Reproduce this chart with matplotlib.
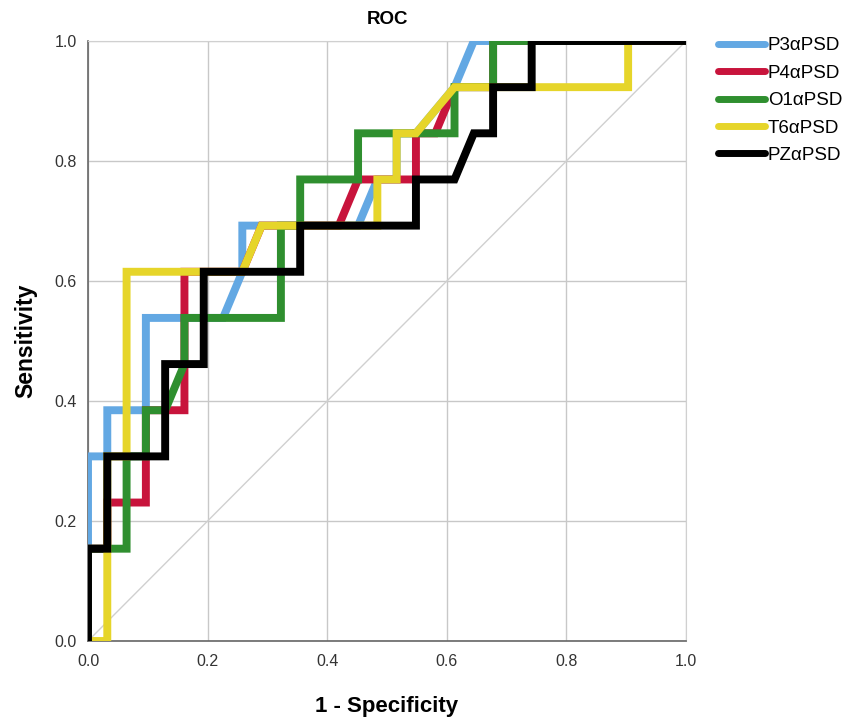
import numpy as np
import matplotlib.pyplot as plt

plt.rcParams['font.family'] = ['Liberation Sans', 'DejaVu Sans']

# ROC points, as counts of negatives (x) and positives (y)
n_neg = 31
n_pos = 13

p3_fp = [0, 0, 1, 1, 3, 3, 7, 8, 8, 14, 15, 16, 16, 17, 19, 20, 31]
p3_tp = [0, 4, 4, 5, 5, 7, 7, 8, 9, 9, 10, 10, 11, 11, 12, 13, 13]

p4_fp = [0, 0, 1, 1, 3, 3, 5, 5, 8, 9, 13, 14, 17, 17, 18, 19, 21, 21, 31]
p4_tp = [0, 2, 2, 3, 3, 5, 5, 8, 8, 9, 9, 10, 10, 11, 11, 12, 12, 13, 13]

o1_fp = [0, 0, 2, 2, 3, 3, 4, 5, 5, 10, 10, 11, 11, 14, 14, 19, 19, 21, 21, 31]
o1_tp = [0, 2, 2, 4, 4, 5, 5, 6, 7, 7, 9, 9, 10, 10, 11, 11, 12, 12, 13, 13]

t6_fp = [0, 1, 1, 2, 2, 8, 9, 15, 15, 16, 16, 17, 19, 28, 28, 31]
t6_tp = [0, 0, 4, 4, 8, 8, 9, 9, 10, 10, 11, 11, 12, 12, 13, 13]

pz_fp = [0, 0, 1, 1, 4, 4, 6, 6, 11, 11, 17, 17, 19, 20, 21, 21, 23, 23, 31]
pz_tp = [0, 2, 2, 4, 4, 6, 6, 8, 8, 9, 9, 10, 10, 11, 11, 12, 12, 13, 13]

labels = ["P3αPSD", "P4αPSD", "O1αPSD", "T6αPSD", "PZαPSD"]
colors = ["#63a8e3", "#c8143c", "#2f8f2f", "#e6d52a", "#000000"]
curves = [(p3_fp, p3_tp), (p4_fp, p4_tp), (o1_fp, o1_tp),
          (t6_fp, t6_tp), (pz_fp, pz_tp)]

fig = plt.figure(figsize=(8.51, 7.27), dpi=100)
ax = fig.add_axes([88 / 851, 1 - 641 / 727, 598 / 851, 600 / 727])

ticks = np.arange(0, 1.01, 0.2)
ax.set_xticks(ticks)
ax.set_yticks(ticks)
ax.set_xticklabels([f"{t:.1f}" for t in ticks])
ax.set_yticklabels([f"{t:.1f}" for t in ticks])
ax.grid(True, color="#c8c8c8", linewidth=1.0)
ax.set_axisbelow(True)
ax.tick_params(length=0, labelsize=11.5, labelcolor="#333333")
ax.tick_params(axis="x", pad=9)
ax.tick_params(axis="y", pad=8)

ax.plot([0, 1], [0, 1], color="#d0d0d0", linewidth=1.0, zorder=1)

for (fp, tp), lab, col in zip(curves, labels, colors):
    x = np.array(fp) / n_neg
    y = np.array(tp) / n_pos
    ax.plot(x, y, color=col, linewidth=5.7, label=lab,
            solid_joinstyle="miter", solid_capstyle="butt", zorder=3)

ax.set_xlim(0, 1)
ax.set_ylim(0, 1)

for side in ["top", "right"]:
    ax.spines[side].set_color("#d0d0d0")
for side in ["left", "bottom"]:
    ax.spines[side].set_color("#666666")
    ax.spines[side].set_linewidth(1.2)

ax.set_title("ROC", fontsize=13.5, fontweight="bold", pad=12)
ax.set_xlabel("1 - Specificity", fontsize=16, fontweight="bold", labelpad=20)
ax.set_ylabel("Sensitivity", fontsize=16.5, fontweight="bold", labelpad=12)

leg = ax.legend(loc="upper left", bbox_to_anchor=(1.041, 1.019), frameon=False,
                fontsize=13.5, handlelength=2.5, handletextpad=0.15,
                labelspacing=0.55, borderaxespad=0)
for line in leg.get_lines():
    line.set_linewidth(5)
    line.set_solid_capstyle("round")

fig.savefig("out.png", dpi=100)
